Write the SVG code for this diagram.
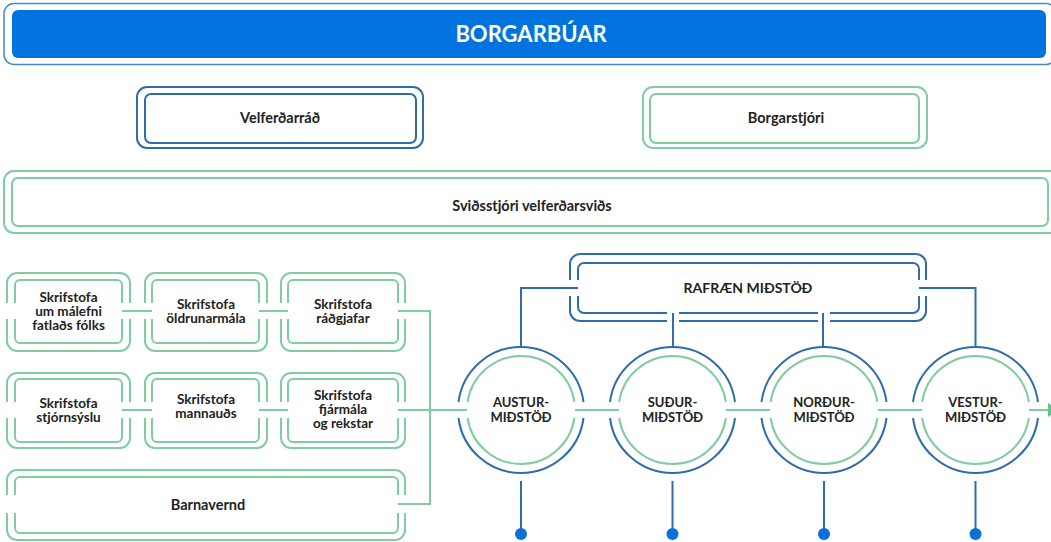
<svg xmlns="http://www.w3.org/2000/svg" width="1051" height="542" viewBox="0 0 1051 542">
  <style>
    .t { font-family: Lato, "Liberation Sans", sans-serif; font-weight: bold; fill: #222; text-anchor: middle; }
    .t13 { font-size: 14.5px; }
    .t12 { font-size: 13.5px; }
    .tc { font-size: 13px; }
    .blue { fill: none; stroke: #2f6cab; stroke-width: 2; }
    .green { fill: none; stroke: #80cda0; stroke-width: 2; }
    .gap { fill: #fff; stroke: none; }
    .cg { fill: none; stroke: #80cda0; stroke-width: 2; }
    .cb { fill: none; stroke: #2f6cab; stroke-width: 2; }
    .lineG { fill: none; stroke: #80cda0; stroke-width: 2; }
    .lineB { fill: none; stroke: #2f6cab; stroke-width: 2; }
    .dot { fill: #0a70dc; }
  </style>
  <defs>
    <marker id="arr" viewBox="0 0 10 14" refX="0" refY="7" markerWidth="10" markerHeight="14" markerUnits="userSpaceOnUse" orient="auto">
      <path d="M0,0 L10,7 L0,14 Z" fill="#5cc488"/>
    </marker>
  </defs>
  <rect width="1051" height="542" fill="#fff"/>

  <g id="borgarbuar">
    <rect x="4" y="3.5" width="1052" height="61" rx="10" fill="none" stroke="#4a86c5" stroke-width="1.5"/>
    <rect x="12" y="10" width="1034" height="48" rx="6" fill="#0073df"/>
    <text class="t" x="531" y="42" font-size="22" style="fill:#fff">BORGARBÚAR</text>
  </g>

  <g id="velferdarrad">
    <rect class="blue" x="137" y="87" width="286" height="61" rx="10"/>
    <rect class="blue" x="145" y="94" width="271" height="49" rx="6"/>
    <text class="t t13" x="280" y="123">Velferðarráð</text>
  </g>

  <g id="borgarstjori">
    <rect class="green" x="643" y="87" width="284" height="61" rx="10"/>
    <rect class="green" x="650" y="94" width="269" height="49" rx="6"/>
    <text class="t t13" x="786" y="123">Borgarstjóri</text>
  </g>

  <g id="svidsstjori">
    <rect class="green" x="4" y="171" width="1060" height="62" rx="10"/>
    <rect class="green" x="12" y="178" width="1036" height="48" rx="6"/>
    <text class="t t13" x="532" y="211">Sviðsstjóri velferðarsviðs</text>
  </g>

  <g id="skr-fatlads">
    <rect class="green" x="7" y="273" width="123" height="78" rx="10"/>
    <rect class="green" x="15" y="280" width="107" height="63" rx="5"/>
    <rect class="gap" x="4" y="303" width="14" height="16"/>
    <rect class="gap" x="119" y="303" width="14" height="16"/>
    <text class="t t12" x="68.5" y="302">Skrifstofa</text>
    <text class="t t12" x="68.5" y="316">um málefni</text>
    <text class="t t12" x="68.5" y="330">fatlaðs fólks</text>
  </g>

  <g id="skr-oldrunar">
    <rect class="green" x="145" y="273" width="122" height="78" rx="10"/>
    <rect class="green" x="152" y="280" width="107" height="63" rx="5"/>
    <rect class="gap" x="142" y="303" width="14" height="16"/>
    <rect class="gap" x="256" y="303" width="14" height="16"/>
    <text class="t t12" x="206" y="309">Skrifstofa</text>
    <text class="t t12" x="206" y="323">öldrunarmála</text>
  </g>

  <g id="skr-radgjafar">
    <rect class="green" x="281" y="273" width="124" height="78" rx="10"/>
    <rect class="green" x="288" y="280" width="110" height="63" rx="5"/>
    <rect class="gap" x="278" y="303" width="14" height="16"/>
    <rect class="gap" x="394" y="303" width="14" height="16"/>
    <text class="t t12" x="343" y="309">Skrifstofa</text>
    <text class="t t12" x="343" y="323">ráðgjafar</text>
  </g>

  <g id="skr-stjornsyslu">
    <rect class="green" x="7" y="373" width="123" height="75" rx="10"/>
    <rect class="green" x="15" y="379" width="107" height="63" rx="5"/>
    <rect class="gap" x="4" y="402" width="14" height="16"/>
    <rect class="gap" x="119" y="402" width="14" height="16"/>
    <text class="t t12" x="68.5" y="408">Skrifstofa</text>
    <text class="t t12" x="68.5" y="422">stjórnsýslu</text>
  </g>

  <g id="skr-mannauds">
    <rect class="green" x="145" y="373" width="122" height="75" rx="10"/>
    <rect class="green" x="152" y="379" width="107" height="63" rx="5"/>
    <rect class="gap" x="142" y="402" width="14" height="16"/>
    <rect class="gap" x="256" y="402" width="14" height="16"/>
    <text class="t t12" x="206" y="404">Skrifstofa</text>
    <text class="t t12" x="206" y="418">mannauðs</text>
  </g>

  <g id="skr-fjarmala">
    <rect class="green" x="281" y="373" width="124" height="75" rx="10"/>
    <rect class="green" x="288" y="379" width="110" height="63" rx="5"/>
    <rect class="gap" x="278" y="402" width="14" height="16"/>
    <rect class="gap" x="394" y="402" width="14" height="16"/>
    <text class="t t12" x="343" y="400">Skrifstofa</text>
    <text class="t t12" x="343" y="414">fjármála</text>
    <text class="t t12" x="343" y="428">og rekstar</text>
  </g>

  <g id="barnavernd">
    <rect class="green" x="7" y="470" width="398" height="70" rx="10"/>
    <rect class="green" x="15" y="477" width="383" height="56" rx="5"/>
    <rect class="gap" x="4" y="495" width="14" height="18"/>
    <rect class="gap" x="394" y="495" width="14" height="18"/>
    <text class="t t13" x="208" y="510">Barnavernd</text>
  </g>

  <g id="rafraen">
    <rect class="blue" x="570" y="254" width="356" height="67" rx="10"/>
    <rect class="blue" x="578" y="263" width="341" height="50" rx="6"/>
    <rect class="gap" x="566" y="280" width="16" height="16"/>
    <rect class="gap" x="915" y="280" width="16" height="16"/>
    <rect class="gap" x="667" y="310" width="12" height="14"/>
    <rect class="gap" x="818" y="310" width="12" height="14"/>
    <text class="t" font-size="14" x="748" y="293">RAFRÆN MIÐSTÖÐ</text>
  </g>

  <g id="austur">
    <path class="cb" d="M458.5,402 A63,63 0 0 1 583.5,402 M583.5,418 A63,63 0 0 1 458.5,418"/>
    <path class="cg" d="M467.6,402 A54,54 0 0 1 574.4,402 M574.4,418 A54,54 0 0 1 467.6,418"/>
    <text class="t tc" x="521" y="406.5">AUSTUR-</text>
    <text class="t tc" x="521" y="421.5">MIÐSTÖÐ</text>
  </g>

  <g id="sudur">
    <path class="cb" d="M610,402 A63,63 0 0 1 735,402 M735,418 A63,63 0 0 1 610,418"/>
    <path class="cg" d="M619.1,402 A54,54 0 0 1 725.9,402 M725.9,418 A54,54 0 0 1 619.1,418"/>
    <text class="t tc" x="672.5" y="406.5">SUÐUR-</text>
    <text class="t tc" x="672.5" y="421.5">MIÐSTÖÐ</text>
  </g>

  <g id="nordur">
    <path class="cb" d="M761.5,402 A63,63 0 0 1 886.5,402 M886.5,418 A63,63 0 0 1 761.5,418"/>
    <path class="cg" d="M770.6,402 A54,54 0 0 1 877.4,402 M877.4,418 A54,54 0 0 1 770.6,418"/>
    <text class="t tc" x="824" y="406.5">NORÐUR-</text>
    <text class="t tc" x="824" y="421.5">MIÐSTÖÐ</text>
  </g>

  <g id="vestur">
    <path class="cb" d="M913,402 A63,63 0 0 1 1038,402 M1038,418 A63,63 0 0 1 913,418"/>
    <path class="cg" d="M922.1,402 A54,54 0 0 1 1028.9,402 M1028.9,418 A54,54 0 0 1 922.1,418"/>
    <text class="t tc" x="975.5" y="406.5">VESTUR-</text>
    <text class="t tc" x="975.5" y="421.5">MIÐSTÖÐ</text>
  </g>

  <g id="connectors">
    <path class="lineG" d="M122,311 H152 M259,311 H288"/>
    <path class="lineG" d="M122,410 H152 M259,410 H288"/>
    <path class="lineG" d="M398,311 H430 V504 H398"/>
    <path class="lineG" d="M398,410 H467"/>
    <path class="lineG" d="M575,410 H619 M726,410 H770 M878,410 H922"/>
    <path class="lineG" d="M1029,410 H1048" marker-end="url(#arr)"/>
    <path class="lineB" d="M578,288 H521 V347"/>
    <path class="lineB" d="M919,288 H975.5 V347"/>
    <path class="lineB" d="M673,313 V347.5"/>
    <path class="lineB" d="M823,313 V347"/>
    <path class="lineB" d="M521,481 V534 M672.5,481 V534 M824,481 V534 M975.5,481 V534"/>
    <circle class="dot" cx="521" cy="534" r="6"/>
    <circle class="dot" cx="672.5" cy="534" r="6"/>
    <circle class="dot" cx="824" cy="534" r="6"/>
    <circle class="dot" cx="975.5" cy="534" r="6"/>
  </g>
</svg>
